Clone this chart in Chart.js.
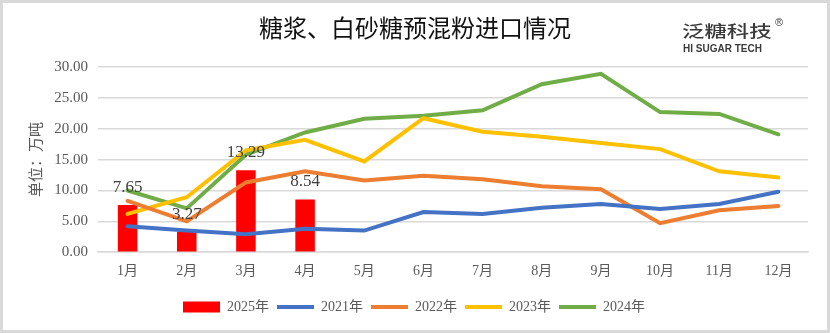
<!DOCTYPE html>
<html>
<head>
<meta charset="utf-8">
<script src="https://cdn.jsdelivr.net/npm/chart.js@4.4.1/dist/chart.umd.min.js"></script>
<style>
  html, body { margin: 0; padding: 0; background: #fff; }
  #wrap { width: 830px; height: 333px; }
</style>
</head>
<body>
<div id="wrap"><canvas id="importChart" width="830" height="333"></canvas></div>
<script>
// chart data
const months = ['1月', '2月', '3月', '4月', '5月', '6月', '7月', '8月', '9月', '10月', '11月', '12月'];
const imports2025 = [7.65, 3.27, 13.29, 8.54];
const imports2021 = [4.2, 3.5, 2.9, 3.8, 3.5, 6.5, 6.2, 7.2, 7.8, 7.0, 7.8, 9.8];
const imports2022 = [8.3, 5.0, 11.3, 13.1, 11.6, 12.4, 11.8, 10.7, 10.2, 4.7, 6.8, 7.5];
const imports2023 = [6.2, 8.9, 16.5, 18.2, 14.7, 21.7, 19.5, 18.7, 17.7, 16.7, 13.1, 12.1];
const imports2024 = [10.0, 7.1, 15.8, 19.4, 21.6, 22.1, 23.0, 27.2, 28.9, 22.7, 22.4, 19.1];
const yTicks = [0, 5, 10, 15, 20, 25, 30];

const serif = '"Liberation Serif", "DejaVu Serif", "Noto Sans CJK SC", serif';
const cjk = '"Noto Sans CJK SC", sans-serif';

function lineSet(label, data, color) {
  return {
    type: 'line',
    label: label,
    data: data,
    borderColor: color,
    backgroundColor: color,
    borderWidth: 4,
    borderCapStyle: 'round',
    pointRadius: 0,
    tension: 0,
    pointStyle: 'line',
    order: 0
  };
}

// title, logo, frame and bar value labels
const decorPlugin = {
  id: 'decor',
  afterDatasetsDraw(chart) {
    const ctx = chart.ctx;
    const meta = chart.getDatasetMeta(0);
    ctx.save();
    ctx.fillStyle = '#404040';
    ctx.font = '17px ' + serif;
    ctx.textAlign = 'center';
    ctx.textBaseline = 'alphabetic';
    meta.data.forEach((bar, i) => {
      ctx.fillText(imports2025[i].toFixed(2), bar.x, bar.y - 13);
    });
    ctx.restore();
  },
  afterDraw(chart) {
    const ctx = chart.ctx;
    ctx.save();
    ctx.strokeStyle = '#d9d9d9';
    ctx.lineWidth = 3;
    ctx.strokeRect(1.5, 1.5, 827, 330);

    ctx.fillStyle = '#111';
    ctx.textAlign = 'center';
    ctx.textBaseline = 'middle';
    ctx.font = '24px ' + cjk;
    ctx.fillText('糖浆、白砂糖预混粉进口情况', 415, 28);

    // logo
    ctx.fillStyle = '#3a3a3a';
    ctx.textAlign = 'left';
    ctx.save();
    ctx.translate(682, 31);
    ctx.scale(1.12, 0.82);
    ctx.font = '500 20px ' + cjk;
    ctx.fillText('泛糖科技', 0, 0);
    ctx.restore();
    ctx.font = '11px "Liberation Sans", Arial, sans-serif';
    ctx.fillText('®', 775, 23);
    ctx.font = 'bold 10px "Liberation Sans", Arial, sans-serif';
    ctx.fillText('HI SUGAR TECH', 683, 49);
    ctx.restore();
  }
};

const ctx = document.getElementById('importChart').getContext('2d');
new Chart(ctx, {
  data: {
    labels: months,
    datasets: [
      {
        type: 'bar',
        label: '2025年',
        data: imports2025,
        backgroundColor: '#ff0000',
        barPercentage: 0.33,
        categoryPercentage: 1,
        pointStyle: 'rect',
        order: 1
      },
      lineSet('2021年', imports2021, '#4472c4'),
      lineSet('2022年', imports2022, '#ed7d31'),
      lineSet('2023年', imports2023, '#ffc000'),
      lineSet('2024年', imports2024, '#70ad47')
    ]
  },
  options: {
    responsive: false,
    animation: false,
    layout: { padding: { top: 67, left: 20, right: 22, bottom: 9 } },
    scales: {
      x: {
        grid: { display: false },
        border: { color: '#d9d9d9', width: 1.5 },
        ticks: { color: '#595959', font: { family: serif, size: 14 }, padding: 3 },
        afterFit: (scale) => { scale.height += 9; }
      },
      y: {
        min: 0,
        max: 30,
        afterBuildTicks: (scale) => { scale.ticks = yTicks.map(v => ({ value: v })); },
        afterFit: (scale) => { scale.width = 78; },
        grid: { color: '#d9d9d9', lineWidth: 1.5, drawTicks: false },
        border: { display: false },
        ticks: {
          color: '#595959',
          font: { family: serif, size: 15 },
          padding: 10,
          callback: v => v.toFixed(2)
        },
        title: {
          display: true,
          text: '单位：万吨',
          color: '#595959',
          font: { family: cjk, size: 15 },
          padding: { top: 6, bottom: 0 }
        }
      }
    },
    plugins: {
      legend: {
        position: 'bottom',
        labels: {
          usePointStyle: true,
          pointStyleWidth: 37,
          boxHeight: 11,
          padding: 8,
          color: '#595959',
          font: { family: serif, size: 14 },
          sort: (a, b) => a.datasetIndex - b.datasetIndex
        }
      },
      tooltip: { enabled: false }
    }
  },
  plugins: [decorPlugin]
});
</script>
</body>
</html>
